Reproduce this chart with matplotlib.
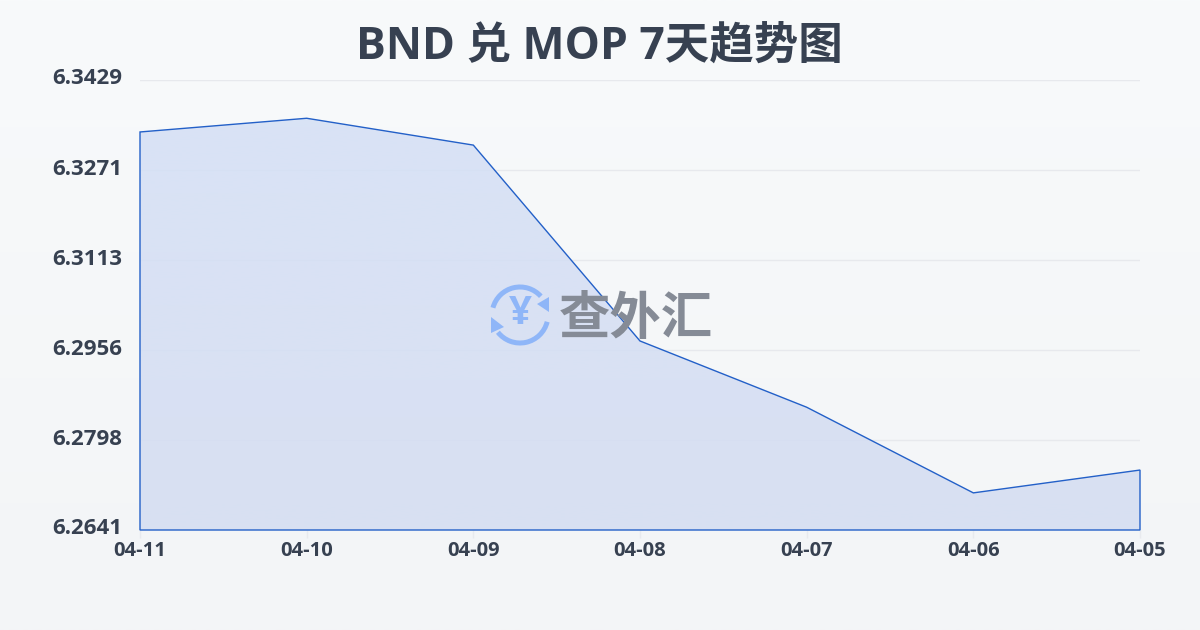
import matplotlib
matplotlib.use("Agg")
import matplotlib.pyplot as plt
import numpy as np
from matplotlib.patches import Arc, Polygon
from matplotlib.transforms import ScaledTranslation

plt.rcParams['font.family'] = ['Open Sans', 'Noto Sans CJK SC', 'DejaVu Sans']

# Data
dates = ["04-11", "04-10", "04-09", "04-08", "04-07", "04-06", "04-05"]
rates = [6.3338, 6.3362, 6.3315, 6.2972, 6.2856, 6.2706, 6.2746]
y_ticks = [6.2641, 6.2798, 6.2956, 6.3113, 6.3271, 6.3429]
y_labels = ["6.2641", "6.2798", "6.2956", "6.3113", "6.3271", "6.3429"]

W, H = 1200, 630
TEXT = "#374151"
LINE = "#2360c8"

fig = plt.figure(figsize=(12, 6.3), dpi=100)

# page background, light vertical gradient
bg = fig.add_axes([0, 0, 1, 1], zorder=0)
bg.imshow(np.linspace(0, 1, 256).reshape(-1, 1), aspect='auto', extent=[0, W, H, 0],
          cmap=matplotlib.colors.LinearSegmentedColormap.from_list("bg", ["#f8fafb", "#f3f5f7"]))
bg.axis('off')

# plot area 140-1140 x 80-530 px
ax = fig.add_axes([140 / W, 1 - 530 / H, 1000 / W, 450 / H], zorder=1)
ax.patch.set_alpha(0)
x = np.arange(len(dates))
ax.set_xlim(0, len(dates) - 1)
ax.set_ylim(y_ticks[0], y_ticks[-1])

ax.set_yticks(y_ticks)
ax.set_yticklabels(y_labels, fontsize=16, fontweight='bold', color=TEXT, va='center')
ax.set_xticks(x)
ax.set_xticklabels(dates, fontsize=14.5, fontweight='bold', color=TEXT)
ax.tick_params(axis='y', length=0, pad=13)
ax.tick_params(axis='x', length=6, width=1, color="#e8eaee", pad=2)
for label in ax.get_yticklabels():
    label.set_transform(label.get_transform() + ScaledTranslation(0, 1 / 100, fig.dpi_scale_trans))
for s in ax.spines.values():
    s.set_visible(False)
ax.grid(axis='y', color="#e7e9ed", lw=1)
ax.set_axisbelow(True)

# area fill with soft gradient, clipped to the polygon under the line
verts = list(zip(x, rates)) + [(x[-1], y_ticks[0]), (x[0], y_ticks[0])]
poly = Polygon(verts, closed=True, fc='none', ec=LINE, lw=1.0, zorder=3, joinstyle='miter')
poly.set_clip_on(False)
ax.add_patch(poly)
grad = ax.imshow(np.linspace(0, 1, 256).reshape(-1, 1), aspect='auto', zorder=2,
                 extent=[x[0], x[-1], y_ticks[0], y_ticks[-1]], alpha=0.85,
                 cmap=matplotlib.colors.LinearSegmentedColormap.from_list("fill", ["#d4e0f6", "#d4ddf2"]))
grad.set_clip_path(poly)
ax.set_xlim(0, len(dates) - 1)
ax.set_ylim(y_ticks[0], y_ticks[-1])

fig.text(599 / W, 1 - 47 / H, "BND 兑 MOP 7天趋势图", fontsize=32, fontweight='bold',
         color="#374151", ha='center', va='center')

# watermark on top, in pixel coordinates
wm = fig.add_axes([0, 0, 1, 1], zorder=2)
wm.set_xlim(0, W)
wm.set_ylim(H, 0)
wm.axis('off')
ICON = "#8fb6f8"
cx, cy = 520, 315
wm.add_patch(Arc((cx, cy), 56, 56, theta1=195, theta2=318, color=ICON, lw=3.6))
wm.add_patch(Arc((cx, cy), 56, 56, theta1=14, theta2=142, color=ICON, lw=3.6))
wm.add_patch(Polygon([(537, 304), (549, 297), (549, 312)], closed=True, fc=ICON, ec='none'))
wm.add_patch(Polygon([(491, 317), (504, 327), (491, 333)], closed=True, fc=ICON, ec='none'))
wm.text(cx, cy - 1, "¥", fontsize=29, fontweight='bold', color=ICON, ha='center', va='center')
wm.text(636, 321, "查外汇", fontsize=37, fontweight='bold', color="#858b96", ha='center', va='center')

fig.savefig("out.png", dpi=100)
